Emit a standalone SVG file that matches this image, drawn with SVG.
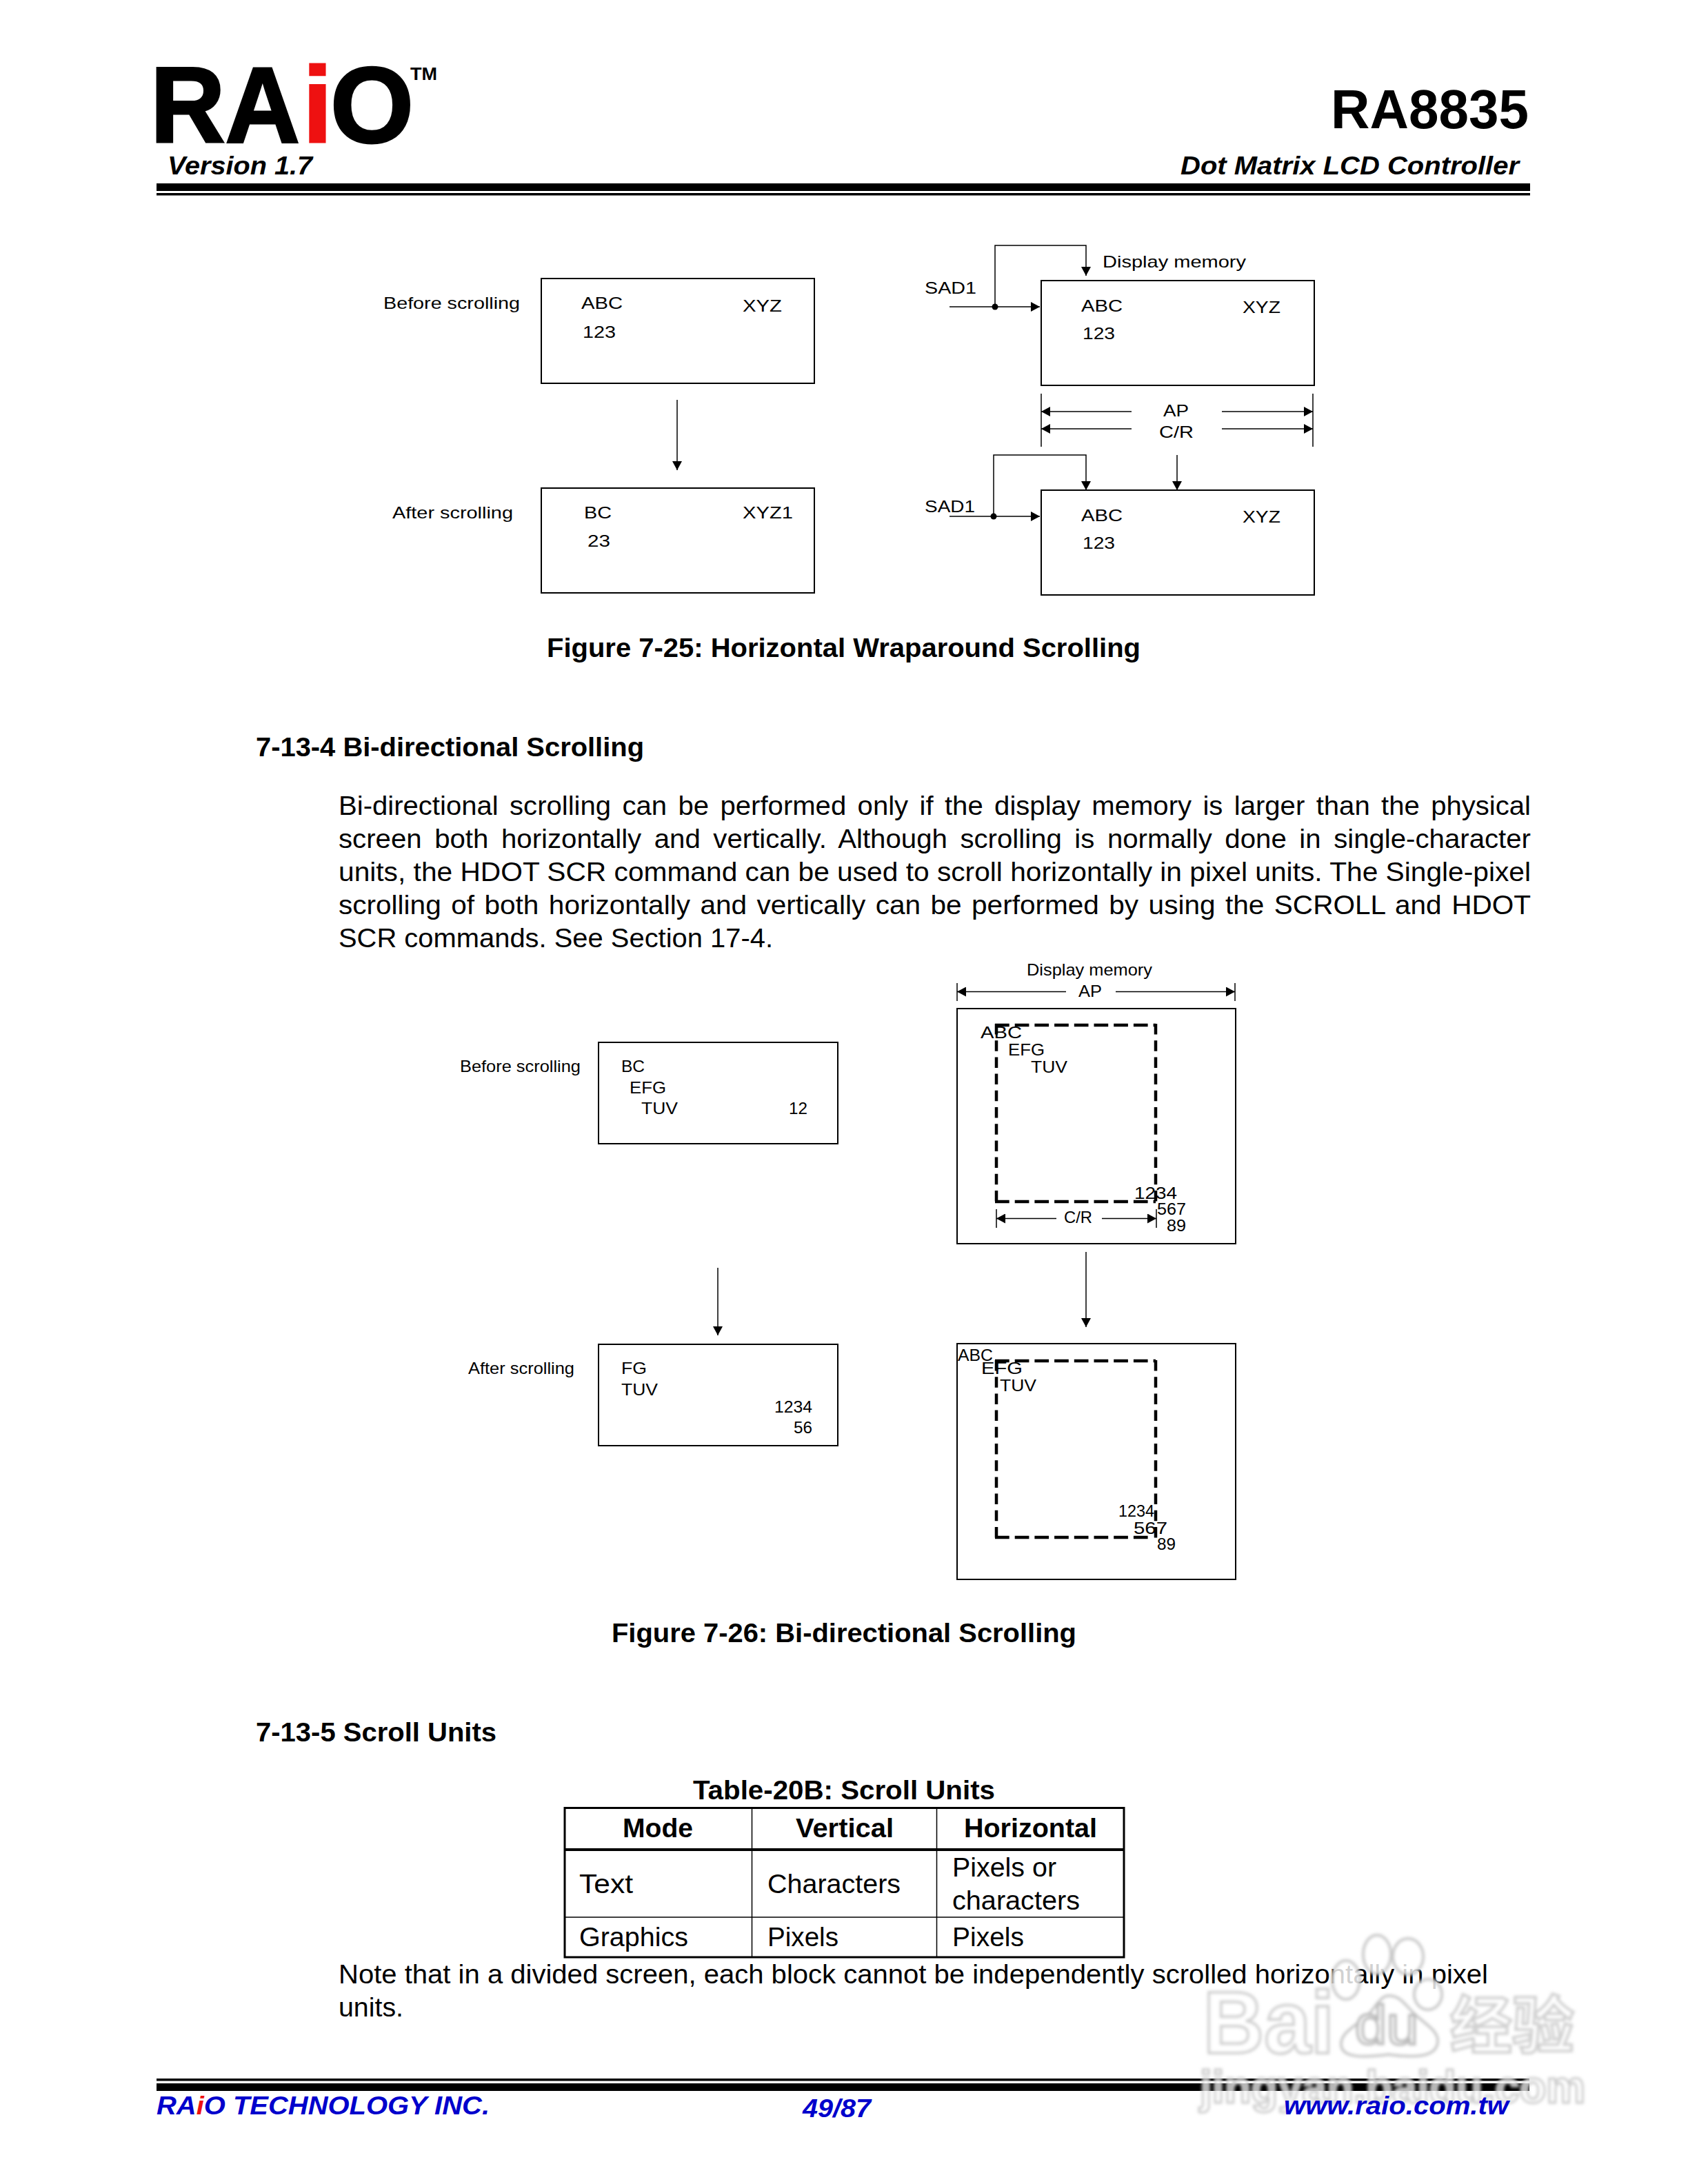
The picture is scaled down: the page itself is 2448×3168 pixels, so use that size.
<svg xmlns="http://www.w3.org/2000/svg" width="2448" height="3168" viewBox="0 0 2448 3168">
<style>
text{font-family:"Liberation Sans",Arial,sans-serif;fill:#000}
.s{font-size:24px}
.b{font-size:38px}
.h{font-size:38px;font-weight:bold}
.hi{font-weight:bold;font-style:italic}
.logo{font-size:156px;font-weight:bold;stroke:#000;stroke-width:3}
.f{font-size:37px;font-weight:bold;font-style:italic;fill:#0000cc}
.box{fill:none;stroke:#000;stroke-width:2}
.ln{fill:none;stroke:#000;stroke-width:1.5}
.ar{marker-end:url(#ah)}
.dh{fill:none;stroke:#000;stroke-width:4.5;stroke-dasharray:20.7 8}
.dv{fill:none;stroke:#000;stroke-width:4.5;stroke-dasharray:15.5 8.7}
.wm{fill:#fff;fill-opacity:.82;stroke:#c8c8c8;stroke-width:4}
</style>
<defs>
<marker id="ah" markerUnits="userSpaceOnUse" markerWidth="14" markerHeight="14" refX="13" refY="7" orient="auto"><path d="M0 0L13 7L0 14Z" fill="#000"/></marker>
<filter id="blur" x="-10%" y="-10%" width="120%" height="120%"><feGaussianBlur stdDeviation="2"/></filter>
</defs>
<rect width="2448" height="3168" fill="#fff"/>

<g id="header">
<text class="logo" x="218" y="206" textLength="217" lengthAdjust="spacingAndGlyphs">RA</text>
<text class="logo" x="439" y="206" textLength="43" lengthAdjust="spacingAndGlyphs" style="fill:#ee1111;stroke:#ee1111">i</text>
<text class="logo" x="479" y="206" textLength="121" lengthAdjust="spacingAndGlyphs">O</text>
<text x="595" y="116" font-size="26" font-weight="bold" textLength="39" lengthAdjust="spacingAndGlyphs">TM</text>
<text class="hi" x="243" y="253" font-size="37" textLength="210" lengthAdjust="spacingAndGlyphs">Version 1.7</text>
<text x="1930" y="186" font-size="80" font-weight="bold" textLength="287" lengthAdjust="spacingAndGlyphs">RA8835</text>
<text class="hi" x="1712" y="253" font-size="37" textLength="491" lengthAdjust="spacingAndGlyphs">Dot Matrix LCD Controller</text>
<rect x="227" y="266" width="1992" height="11"/>
<rect x="227" y="280" width="1992" height="3.5"/>
</g>

<g id="connectors">
<path class="ln ar" d="M982 580V682"/>
<path class="ln ar" d="M1377 445H1508"/>
<path class="ln ar" d="M1443 445V356H1575V400"/>
<path class="ln" d="M1510 571V648M1904 571V648"/>
<path class="ln ar" d="M1641 597H1510"/>
<path class="ln ar" d="M1772 597H1904"/>
<path class="ln ar" d="M1641 622H1510"/>
<path class="ln ar" d="M1772 622H1904"/>
<path class="ln ar" d="M1377 749H1508"/>
<path class="ln ar" d="M1441 749V660H1575V711"/>
<path class="ln ar" d="M1707 660V711"/>
<circle cx="1443" cy="445" r="4.5"/>
<circle cx="1441" cy="749" r="4.5"/>
<path class="ln ar" d="M1041 1839V1937"/>
<path class="ln ar" d="M1575 1816V1925"/>
<path class="ln" d="M1388 1426V1452M1791 1426V1452"/>
<path class="ln ar" d="M1546 1438.500H1388"/>
<path class="ln ar" d="M1618 1438.500H1791"/>
<path class="ln" d="M1445 1754V1781M1677 1754V1781"/>
<path class="ln ar" d="M1532 1767.500H1445"/>
<path class="ln ar" d="M1598 1767.500H1677"/>
</g>

<g id="fig25-before"><rect class="box" x="785" y="404" width="396" height="152"/>
<text class="s" x="556" y="448" textLength="198" lengthAdjust="spacingAndGlyphs">Before scrolling</text>
<text class="s" x="843" y="448" textLength="60" lengthAdjust="spacingAndGlyphs">ABC</text>
<text class="s" x="1077" y="452" textLength="57" lengthAdjust="spacingAndGlyphs">XYZ</text>
<text class="s" x="845" y="490" textLength="48" lengthAdjust="spacingAndGlyphs">123</text></g>
<g id="fig25-after"><rect class="box" x="785" y="708" width="396" height="152"/>
<text class="s" x="569" y="752" textLength="175" lengthAdjust="spacingAndGlyphs">After scrolling</text>
<text class="s" x="847" y="752" textLength="40" lengthAdjust="spacingAndGlyphs">BC</text>
<text class="s" x="1077" y="752" textLength="73" lengthAdjust="spacingAndGlyphs">XYZ1</text>
<text class="s" x="852" y="793" textLength="33" lengthAdjust="spacingAndGlyphs">23</text></g>
<g id="fig25-mem1"><rect class="box" x="1510" y="407" width="396" height="152"/>
<text class="s" x="1599" y="388" textLength="208" lengthAdjust="spacingAndGlyphs">Display memory</text>
<text class="s" x="1341" y="426" textLength="75" lengthAdjust="spacingAndGlyphs">SAD1</text>
<text class="s" x="1568" y="452" textLength="60" lengthAdjust="spacingAndGlyphs">ABC</text>
<text class="s" x="1802" y="454" textLength="55" lengthAdjust="spacingAndGlyphs">XYZ</text>
<text class="s" x="1570" y="492" textLength="47" lengthAdjust="spacingAndGlyphs">123</text></g>
<g id="fig25-dims">
<text class="s" x="1687" y="604" textLength="37" lengthAdjust="spacingAndGlyphs">AP</text>
<text class="s" x="1681" y="635" textLength="50" lengthAdjust="spacingAndGlyphs">C/R</text></g>
<g id="fig25-mem2"><rect class="box" x="1510" y="711" width="396" height="152"/>
<text class="s" x="1341" y="743" textLength="73" lengthAdjust="spacingAndGlyphs">SAD1</text>
<text class="s" x="1568" y="756" textLength="60" lengthAdjust="spacingAndGlyphs">ABC</text>
<text class="s" x="1802" y="758" textLength="55" lengthAdjust="spacingAndGlyphs">XYZ</text>
<text class="s" x="1570" y="796" textLength="47" lengthAdjust="spacingAndGlyphs">123</text></g>

<text class="h" x="793" y="953" textLength="861" lengthAdjust="spacingAndGlyphs">Figure 7-25: Horizontal Wraparound Scrolling</text>
<text class="h" x="371" y="1097" textLength="563" lengthAdjust="spacingAndGlyphs">7-13-4 Bi-directional Scrolling</text>
<g id="body">
<text class="b" x="491" y="1182" word-spacing="5" textLength="1729" lengthAdjust="spacingAndGlyphs">Bi-directional scrolling can be performed only if the display memory is larger than the physical</text>
<text class="b" x="491" y="1230" word-spacing="7" textLength="1729" lengthAdjust="spacingAndGlyphs">screen both horizontally and vertically. Although scrolling is normally done in single-character</text>
<text class="b" x="491" y="1278" textLength="1729" lengthAdjust="spacingAndGlyphs">units, the HDOT SCR command can be used to scroll horizontally in pixel units. The Single-pixel</text>
<text class="b" x="491" y="1326" word-spacing="3" textLength="1729" lengthAdjust="spacingAndGlyphs">scrolling of both horizontally and vertically can be performed by using the SCROLL and HDOT</text>
<text class="b" x="491" y="1374" textLength="630" lengthAdjust="spacingAndGlyphs">SCR commands. See Section 17-4.</text>
</g>

<g id="fig26-before"><rect class="box" x="868" y="1512" width="347" height="147"/>
<text class="s" x="667" y="1555" textLength="175" lengthAdjust="spacingAndGlyphs">Before scrolling</text>
<text class="s" x="901" y="1555" textLength="34" lengthAdjust="spacingAndGlyphs">BC</text>
<text class="s" x="913" y="1586" textLength="53" lengthAdjust="spacingAndGlyphs">EFG</text>
<text class="s" x="930" y="1616" textLength="53" lengthAdjust="spacingAndGlyphs">TUV</text>
<text class="s" x="1144" y="1616" textLength="27" lengthAdjust="spacingAndGlyphs">12</text></g>
<g id="fig26-after"><rect class="box" x="868" y="1950" width="347" height="147"/>
<text class="s" x="679" y="1993" textLength="154" lengthAdjust="spacingAndGlyphs">After scrolling</text>
<text class="s" x="901" y="1993" textLength="37" lengthAdjust="spacingAndGlyphs">FG</text>
<text class="s" x="901" y="2024" textLength="53" lengthAdjust="spacingAndGlyphs">TUV</text>
<text class="s" x="1123" y="2049" textLength="55" lengthAdjust="spacingAndGlyphs">1234</text>
<text class="s" x="1151" y="2079" textLength="27" lengthAdjust="spacingAndGlyphs">56</text></g>
<g id="fig26-mem1"><rect class="box" x="1388" y="1463" width="404" height="341"/>
<path class="dh" d="M1443 1487H1676M1443 1743H1676"/>
<path class="dv" d="M1445 1485V1745M1676 1485V1745"/>
<text class="s" x="1489" y="1415" textLength="182" lengthAdjust="spacingAndGlyphs">Display memory</text>
<text class="s" x="1564" y="1446" textLength="34" lengthAdjust="spacingAndGlyphs">AP</text>
<text class="s" x="1422" y="1506" textLength="60" lengthAdjust="spacingAndGlyphs">ABC</text>
<text class="s" x="1462" y="1531" textLength="53" lengthAdjust="spacingAndGlyphs">EFG</text>
<text class="s" x="1495" y="1556" textLength="53" lengthAdjust="spacingAndGlyphs">TUV</text>
<text class="s" x="1645" y="1739" textLength="62" lengthAdjust="spacingAndGlyphs">1234</text>
<text class="s" x="1678" y="1762" textLength="42" lengthAdjust="spacingAndGlyphs">567</text>
<text class="s" x="1692" y="1786" textLength="28" lengthAdjust="spacingAndGlyphs">89</text>
<text class="s" x="1543" y="1774" textLength="41" lengthAdjust="spacingAndGlyphs">C/R</text></g>
<g id="fig26-mem2"><rect class="box" x="1388" y="1949" width="404" height="342"/>
<path class="dh" d="M1443 1974H1676M1443 2230H1666"/>
<path class="dv" d="M1445 1973V2232M1676 1973V2232"/>
<text class="s" x="1389" y="1974" textLength="51" lengthAdjust="spacingAndGlyphs">ABC</text>
<text class="s" x="1423" y="1993" textLength="60" lengthAdjust="spacingAndGlyphs">EFG</text>
<text class="s" x="1450" y="2018" textLength="53" lengthAdjust="spacingAndGlyphs">TUV</text>
<text class="s" x="1622" y="2200" textLength="52" lengthAdjust="spacingAndGlyphs">1234</text>
<text class="s" x="1644" y="2225" textLength="49" lengthAdjust="spacingAndGlyphs">567</text>
<text class="s" x="1678" y="2248" textLength="27" lengthAdjust="spacingAndGlyphs">89</text></g>

<text class="h" x="887" y="2382" textLength="674" lengthAdjust="spacingAndGlyphs">Figure 7-26: Bi-directional Scrolling</text>
<text class="h" x="371" y="2526" textLength="349" lengthAdjust="spacingAndGlyphs">7-13-5 Scroll Units</text>

<g id="table">
<text class="h" x="1005" y="2610" textLength="438" lengthAdjust="spacingAndGlyphs">Table-20B: Scroll Units</text>
<rect x="819" y="2622.500" width="811" height="216.500" fill="none" stroke="#000" stroke-width="3"/>
<path d="M818 2683H1630" stroke="#000" stroke-width="4"/>
<path d="M818 2781H1630M1090.500 2622V2839M1358.500 2622V2839" stroke="#000" stroke-width="1.500"/>
<text class="h" x="903" y="2665" textLength="102" lengthAdjust="spacingAndGlyphs">Mode</text>
<text class="h" x="1154" y="2665" textLength="142" lengthAdjust="spacingAndGlyphs">Vertical</text>
<text class="h" x="1398" y="2665" textLength="193" lengthAdjust="spacingAndGlyphs">Horizontal</text>
<text class="b" x="840" y="2746" textLength="78" lengthAdjust="spacingAndGlyphs">Text</text>
<text class="b" x="1113" y="2746" textLength="193" lengthAdjust="spacingAndGlyphs">Characters</text>
<text class="b" x="1381" y="2722" textLength="151" lengthAdjust="spacingAndGlyphs">Pixels or</text>
<text class="b" x="1381" y="2770" textLength="185" lengthAdjust="spacingAndGlyphs">characters</text>
<text class="b" x="840" y="2823" textLength="158" lengthAdjust="spacingAndGlyphs">Graphics</text>
<text class="b" x="1113" y="2823" textLength="103" lengthAdjust="spacingAndGlyphs">Pixels</text>
<text class="b" x="1381" y="2823" textLength="104" lengthAdjust="spacingAndGlyphs">Pixels</text>
</g>
<text class="b" x="491" y="2877" textLength="1667" lengthAdjust="spacingAndGlyphs">Note that in a divided screen, each block cannot be independently scrolled horizontally in pixel</text>
<text class="b" x="491" y="2925" textLength="94" lengthAdjust="spacingAndGlyphs">units.</text>

<g id="footer-rules">
<rect x="227" y="3015" width="1991" height="3.500"/>
<rect x="227" y="3022" width="1991" height="11"/>
</g>
<g id="watermark" filter="url(#blur)">
<ellipse class="wm" cx="1997" cy="2835" rx="20" ry="28"/>
<ellipse class="wm" cx="2042" cy="2838" rx="22" ry="26"/>
<ellipse class="wm" cx="1952" cy="2872" rx="20" ry="28"/>
<ellipse class="wm" cx="2071" cy="2893" rx="20" ry="22"/>
<path class="wm" d="M2014 2895C2000 2895 1995 2915 1978 2928C1960 2942 1945 2950 1945 2965C1945 2985 1975 2985 2014 2980C2050 2985 2085 2985 2085 2960C2085 2945 2065 2935 2050 2920C2035 2905 2030 2895 2014 2895Z"/>
<text x="1745" y="2978" font-size="128" font-weight="bold" textLength="190" lengthAdjust="spacingAndGlyphs" style="fill:#fff;fill-opacity:.82;stroke:#d0d0d0;stroke-width:4">Bai</text>
<text x="1965" y="2965" font-size="80" font-weight="normal" textLength="92" lengthAdjust="spacingAndGlyphs" style="fill:#fff;stroke:#bdbdbd;stroke-width:4">du</text>
<text x="2103" y="2970" font-size="90" font-weight="bold" style="font-family:'Noto Sans CJK SC',sans-serif;fill:#fff;fill-opacity:.82;stroke:#d0d0d0;stroke-width:4">经验</text>
<text x="1740" y="3050" font-size="66" font-weight="bold" textLength="559" lengthAdjust="spacingAndGlyphs" style="fill:#fff;fill-opacity:.7;stroke:#c8c8c8;stroke-width:3">jingyan.baidu.com</text>
</g>
<g id="footer">
<text class="f" x="227" y="3067" textLength="483" lengthAdjust="spacingAndGlyphs">RA<tspan style="fill:#ee1111">i</tspan>O TECHNOLOGY INC.</text>
<text class="f" x="1164" y="3071" textLength="99" lengthAdjust="spacingAndGlyphs">49/87</text>
<text class="f" x="1862" y="3067" textLength="326" lengthAdjust="spacingAndGlyphs">www.raio.com.tw</text>
</g>
</svg>
